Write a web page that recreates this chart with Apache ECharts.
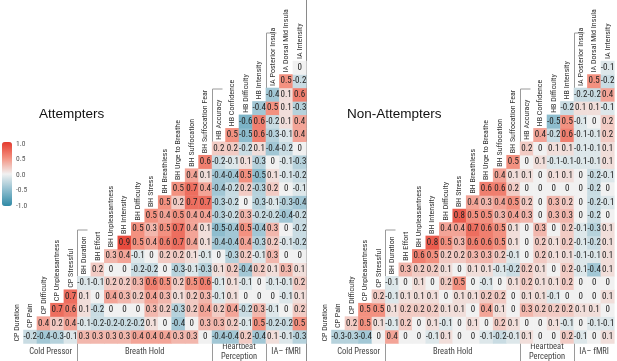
<!DOCTYPE html>
<html>
<head>
<meta charset="utf-8">
<script src="https://cdn.jsdelivr.net/npm/echarts@6/dist/echarts.min.js"></script>
<style>
  html, body { margin: 0; padding: 0; background: #fff; }
  #chart { width: 617px; height: 361px; }
</style>
</head>
<body>
<div id="chart"></div>
<script>
// variables in matrix order, index 0 is the bottom row / left column
const variables = [
  "CP Duration", "CP Pain", "CP Difficulty", "CP Unpleasantness", "CP Stressful",
  "BH Duration", "BH Effort", "BH Unpleasantness", "BH Intensity", "BH Difficulty",
  "BH Stress", "BH Breathless", "BH Urge to Breathe", "BH Suffocation", "BH Suffocation Fear",
  "HB Accuracy", "HB Confidence", "HB Difficulty", "HB Intensity",
  "IA Posterior Insula", "IA Dorsal Mid Insula", "IA Intensity"
];

// row i holds r(i, j) for j = i+1 .. 21
const attempters = [
  [-0.2, -0.4, -0.3, -0.1, 0.3, 0.3, 0.3, 0.3, 0.4, 0.4, 0.4, 0.3, 0.3, 0, -0.4, -0.4, 0.2, -0.4, 0.1, -0.1, -0.3],
  [0.4, 0.2, 0.4, -0.1, -0.2, -0.2, -0.2, -0.2, 0.1, 0, -0.4, 0, 0.3, 0.3, 0.2, -0.1, 0.5, -0.2, -0.2, 0.5],
  [0.7, 0.6, 0.1, -0.2, 0, 0, 0, 0.3, 0.2, -0.3, 0.2, 0.4, 0.2, 0.4, -0.2, 0.3, -0.1, 0, 0.2],
  [0.7, 0.1, 0, 0.4, 0.3, 0.2, 0.4, 0.3, 0.1, 0.2, 0.3, -0.1, 0.1, 0, 0, 0, -0.1, 0.1],
  [-0.1, -0.1, 0.2, 0.2, 0.3, 0.6, 0.5, 0.2, 0.5, 0.6, -0.1, 0.1, -0.1, 0, -0.1, -0.1, 0.2],
  [0.2, 0, 0, -0.2, -0.2, 0, -0.3, -0.1, -0.3, 0.1, 0.2, -0.4, 0.2, 0.1, 0.3, 0.1],
  [0.3, 0.4, -0.1, 0, 0.2, 0.2, 0.1, -0.1, 0, -0.3, 0.2, -0.1, 0.3, 0, 0],
  [0.9, 0.5, 0.4, 0.6, 0.7, 0.4, 0.1, -0.4, -0.4, 0.4, -0.3, 0.2, -0.1, -0.2],
  [0.5, 0.3, 0.5, 0.7, 0.4, 0.1, -0.5, -0.4, 0.5, -0.4, 0.3, 0, -0.2],
  [0.5, 0.4, 0.5, 0.4, 0.4, -0.3, -0.2, 0.3, -0.2, -0.2, -0.4, -0.2],
  [0.5, 0.2, 0.7, 0.7, -0.3, -0.2, 0, -0.3, -0.1, -0.3, -0.4],
  [0.5, 0.7, 0.4, -0.4, -0.2, 0.2, -0.3, 0.2, 0, -0.1],
  [0.4, 0.1, -0.4, -0.4, 0.5, -0.5, 0.1, -0.1, -0.2],
  [0.6, -0.2, -0.1, 0.1, -0.3, 0, -0.1, -0.3],
  [0.2, 0.2, -0.2, 0.1, -0.4, -0.2, 0],
  [0.5, -0.5, 0.6, -0.3, -0.1, 0.4],
  [-0.6, 0.6, -0.2, 0.1, 0.4],
  [-0.4, 0.5, 0.1, -0.3],
  [-0.4, 0.1, 0.6],
  [0.5, -0.2],
  [0]
];

const nonAttempters = [
  [-0.3, -0.3, -0.4, 0, 0.4, 0, 0, -0.1, 0.1, 0, 0, -0.1, -0.2, -0.1, 0.1, 0, 0, 0.2, -0.1, 0, 0.1],
  [0.2, 0.5, 0.1, -0.1, 0.2, 0, 0.1, -0.1, 0, 0.1, 0, 0.2, 0.1, 0, 0, 0.1, -0.1, 0, -0.1, -0.1],
  [0.5, 0.5, 0.1, 0.2, 0.2, 0.2, 0.1, 0.1, 0, 0.4, 0.1, 0, 0.3, 0.2, 0.2, 0.2, 0.1, 0.1, 0],
  [0.2, -0.1, 0.1, 0.1, 0.1, 0, 0.1, 0.1, 0.2, 0.2, 0, 0.1, 0.1, -0.1, 0, 0, 0, 0.1],
  [-0.1, 0, 0.1, 0, 0.2, 0.5, 0, -0.1, 0, 0.1, 0.2, 0.1, 0.1, 0.2, 0, 0, 0],
  [0.3, 0.2, 0.2, 0.1, 0, 0.1, 0.1, -0.1, -0.2, 0.2, 0.1, 0, 0.2, -0.1, -0.4, 0.1],
  [0.6, 0.5, 0.2, 0.2, 0.3, 0.3, 0.2, -0.1, 0, 0.2, 0.1, 0.1, -0.1, -0.1, 0.1],
  [0.8, 0.5, 0.3, 0.6, 0.6, 0.5, 0.1, 0, 0.2, 0.1, 0.2, -0.1, -0.2, 0.1],
  [0.4, 0.4, 0.7, 0.6, 0.5, 0.1, 0, 0.3, 0, 0.2, -0.1, -0.3, 0.1],
  [0.8, 0.5, 0.5, 0.3, 0.4, 0.3, 0, 0.3, 0.3, 0, -0.2, 0],
  [0.4, 0.3, 0.4, 0.5, 0.2, 0, 0.3, 0.2, 0, -0.2, -0.1],
  [0.6, 0.6, 0.2, 0, 0, 0, 0, 0, -0.2, 0],
  [0.4, 0.1, 0.1, 0, 0.1, 0.1, 0, -0.2, -0.1],
  [0.5, 0, 0.1, -0.1, -0.1, -0.1, -0.1, 0.1],
  [0.2, 0, 0.1, 0.1, -0.1, -0.1, 0.1],
  [0.4, -0.2, 0.6, -0.1, -0.1, 0.2],
  [-0.5, 0.5, -0.1, 0, 0.2],
  [-0.2, 0.1, 0.1, -0.1],
  [-0.2, -0.2, 0.4],
  [0.5, -0.2],
  [-0.1]
];

const panelTitles = ["Attempters", "Non-Attempters"];
const groupNames = ["Cold Pressor", "Breath Hold", "Heartbeat\nPerception", "IA\u2013 fMRI"];
const groupStarts = [0, 5, 15, 19];
const colorTicks = ["1.0", "0.5", "0.0", "-0.5", "-1.0"];

const FONT = "'Liberation Sans Narrow', 'Roboto Condensed', Roboto, sans-serif";
const N = variables.length;
const CW = 13.47, CH = 13.45, TOP = 47.6;
const panelLeft = [10, 318];
// top of the bracket line for each group boundary (after the first group)
const bracketTop = { 5: 230, 15: 89, 19: 33 };

function cells(rows) {
  const out = [];
  rows.forEach((row, i) => {
    row.forEach((v, k) => out.push([i + 1 + k, i, v]));
  });
  return out;
}

const chart = echarts.init(document.getElementById("chart"));

const grids = [], xAxes = [], yAxes = [], series = [], graphics = [], titles = [];
[attempters, nonAttempters].forEach((mat, p) => {
  grids.push({ left: panelLeft[p], top: TOP, width: CW * N, height: CH * N });
  xAxes.push({ type: "category", gridIndex: p, data: variables, show: false });
  yAxes.push({ type: "category", gridIndex: p, data: variables, show: false });
  series.push({
    type: "heatmap",
    xAxisIndex: p, yAxisIndex: p,
    data: cells(mat),
    label: {
      show: true, fontSize: 9, fontFamily: FONT, color: "#222",
      formatter: (d) => String(d.value[2])
    },
    itemStyle: { borderWidth: 0 },
    emphasis: { disabled: true }
  });
  series.push({
    type: "custom",
    xAxisIndex: p, yAxisIndex: p,
    data: variables.map((n, i) => [i, i]),
    clip: false,
    silent: true,
    renderItem: (params, api) => {
      const c = api.coord([api.value(0), api.value(1)]);
      const s = api.size([1, 1]);
      return {
        type: "text",
        x: c[0], y: c[1] + s[1] / 2 - 2,
        rotation: Math.PI / 2,
        style: {
          text: variables[params.dataIndex], fontSize: 8, fontFamily: FONT,
          fill: "#333", align: "left", verticalAlign: "middle"
        }
      };
    }
  });
  titles.push({
    text: panelTitles[p], left: panelLeft[p] + 29, top: 107, padding: 0,
    textStyle: { fontSize: 13.5, fontWeight: "normal", color: "#111", fontFamily: "'Liberation Sans', Arial, sans-serif" }
  });

  const x0 = panelLeft[p];
  groupStarts.forEach((g, k) => {
    const gEnd = k + 1 < groupStarts.length ? groupStarts[k + 1] : N;
    let cx = x0 + (g + gEnd) / 2 * CW;
    if (k === 0) cx += 7;
    graphics.push({
      type: "text", x: cx, y: 352,
      style: {
        text: groupNames[k], fontSize: 8.5, fontFamily: FONT, fill: "#444",
        align: "center", verticalAlign: "middle", lineHeight: 10
      }
    });
    if (g > 0) {
      const lx = Math.round(x0 + g * CW) + 0.5;
      graphics.push({
        type: "polyline",
        shape: { points: [[lx + 10, bracketTop[g]], [lx, bracketTop[g]], [lx, 361]] },
        style: { stroke: "#9a9a9a", lineWidth: 1, fill: null }
      });
    }
  });
});

// divider between the two panels
graphics.push({
  type: "line", shape: { x1: 306.5, y1: 0, x2: 306.5, y2: 361 },
  style: { stroke: "#8a8a8a", lineWidth: 1 }
});

// colour bar tick labels
colorTicks.forEach((t, k) => {
  graphics.push({
    type: "text", x: 16, y: 144 + k * 15.5,
    style: { text: t, fontSize: 7.5, fontFamily: FONT, fill: "#555", verticalAlign: "middle" }
  });
});

chart.setOption({
  animation: false,
  title: titles,
  grid: grids,
  xAxis: xAxes,
  yAxis: yAxes,
  visualMap: {
    type: "continuous", min: -1, max: 1, seriesIndex: [0, 2],
    calculable: false, show: true, left: 2, top: 142, padding: 0,
    itemWidth: 10, itemHeight: 64,
    inRange: { color: ["#2F8AA6", "#8EBDCE", "#F1F1F1", "#F39180", "#E5392D"] }
  },
  graphic: graphics,
  series: series
});
</script>
</body>
</html>
